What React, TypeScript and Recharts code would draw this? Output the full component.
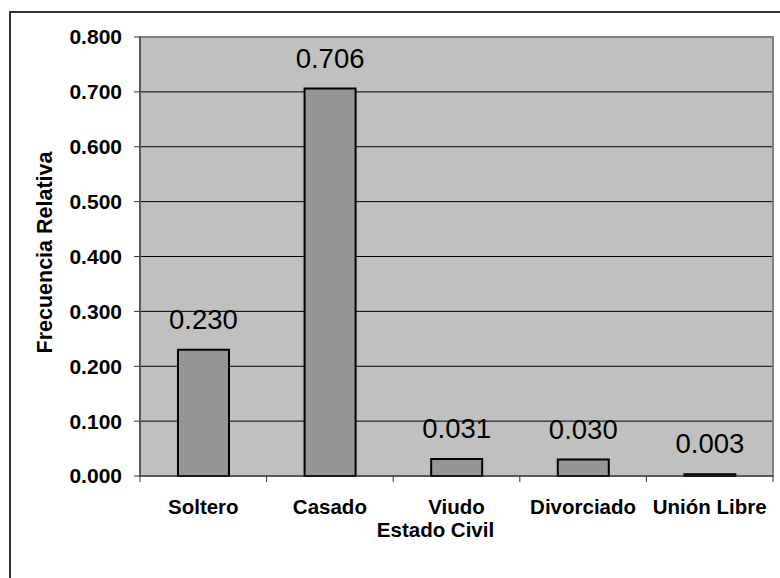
import { Bar, BarChart, CartesianGrid, LabelList, ReferenceArea, XAxis, YAxis } from "recharts";

const categories = ["Soltero", "Casado", "Viudo", "Divorciado", "Unión Libre"];
const frecuencia = [0.23, 0.706, 0.031, 0.03, 0.003];
const yTicks = [0, 0.1, 0.2, 0.3, 0.4, 0.5, 0.6, 0.7, 0.8];

const data = categories.map((c, i) => ({ estado: c, valor: frecuencia[i] }));

const FONT = '"Liberation Sans", Arial, sans-serif';

function CategoryTick(props: any) {
  const { x, y, payload, index } = props;
  const half = payload?.offset ?? 0;
  const last = index === categories.length - 1;
  return (
    <g>
      <line x1={x - half} x2={x - half} y1={y} y2={y + 6} stroke="#333" />
      {last && <line x1={x + half} x2={x + half} y1={y} y2={y + 6} stroke="#333" />}
      <text x={x} y={y + 38} textAnchor="middle" fontWeight="bold" fontSize={20.5} fill="#000" fontFamily={FONT}>
        {payload.value}
      </text>
    </g>
  );
}

export default function App() {
  return (
    <div style={{ position: "fixed", left: 0, top: 0, width: 780, height: 578, background: "#fff", fontFamily: FONT }}>
      <div
        style={{
          position: "absolute",
          left: 9,
          top: 11,
          width: 780,
          height: 578,
          borderLeft: "2px solid #333",
          borderTop: "2px solid #333",
        }}
      />
      <div style={{ position: "absolute", left: 0, top: 0 }}>
        <BarChart
          width={780}
          height={578}
          data={data}
          margin={{ top: 37, right: 7, bottom: 72, left: 0 }}
          barCategoryGap="30%"
        >
          <CartesianGrid vertical={false} stroke="#000" fill="#C0C0C0" fillOpacity={1} />
          <ReferenceArea y1={0} y2={0.8} fill="none" stroke="#808080" strokeWidth={2} ifOverflow="visible" />
          <XAxis
            dataKey="estado"
            height={30}
            tickLine={false}
            tickSize={0}
            tickMargin={0}
            stroke="#333"
            tick={<CategoryTick />}
            interval={0}
            label={{
              content: ({ viewBox }: any) => (
                <text
                  x={viewBox.x + viewBox.width / 2 - 21}
                  y={viewBox.y + 61}
                  textAnchor="middle"
                  fontWeight="bold"
                  fontSize={20.5}
                  fill="#000"
                  fontFamily={FONT}
                >
                  Estado Civil
                </text>
              ),
            }}
          />
          <YAxis
            width={140}
            domain={[0, 0.8]}
            ticks={yTicks}
            interval={0}
            tickFormatter={(v: number) => v.toFixed(3)}
            tickSize={6}
            tickMargin={12}
            stroke="#333"
            tick={{ fill: "#000", fontSize: 21, fontWeight: "bold", fontFamily: FONT }}
            label={{
              content: ({ viewBox }: any) => {
                const cx = viewBox.x + 45;
                const cy = viewBox.y + viewBox.height / 2 - 4;
                return (
                  <text
                    x={cx}
                    y={cy}
                    transform={`rotate(-90 ${cx} ${cy})`}
                    textAnchor="middle"
                    dominantBaseline="central"
                    fontWeight="bold"
                    fontSize={21.5}
                    fill="#000"
                    fontFamily={FONT}
                  >
                    Frecuencia Relativa
                  </text>
                );
              },
            }}
          />
          <Bar dataKey="valor" fill="#969696" stroke="#000" strokeWidth={2} isAnimationActive={false}>
            <LabelList
              dataKey="valor"
              position="top"
              offset={21}
              formatter={(v: any) => Number(v).toFixed(3)}
              style={{ fill: "#000", fontSize: 27.5, fontFamily: FONT }}
            />
          </Bar>
        </BarChart>
      </div>
    </div>
  );
}
